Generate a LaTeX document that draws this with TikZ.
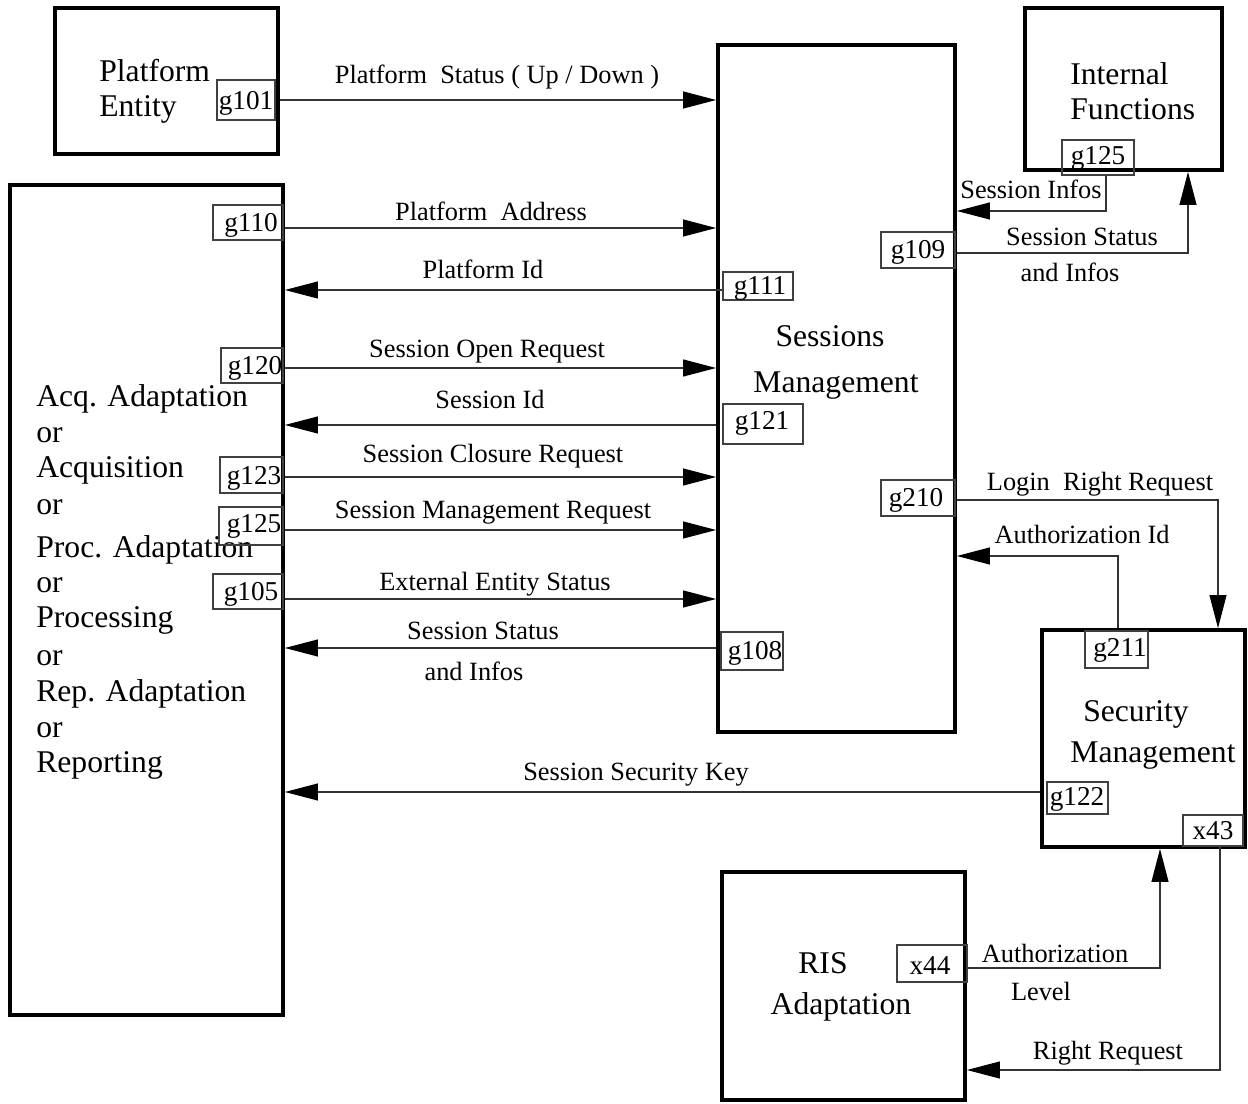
\documentclass[tikz,border=0pt]{standalone}
\usepackage{fontspec}
\setmainfont{Liberation Serif}
\usetikzlibrary{arrows.meta,fit}
\begin{document}
\begin{tikzpicture}[x=0.02cm,y=-0.02cm,
  block/.style={draw, line width=2.2pt, inner sep=0pt},
  port/.style={draw=black!75, line width=0.6pt, inner sep=0pt},
  ptext/.style={inner sep=0pt, font=\fontsize{15.5}{17}\selectfont},
  conn/.style={draw=black!80, line width=0.6pt},
  arr/.style={conn, -{Triangle[length=0.66cm,width=0.34cm,color=black]}},
  lbl/.style={font=\fontsize{15}{17}\selectfont, inner sep=0pt, anchor=base},
  big/.style={font=\fontsize{18}{20}\selectfont, inner sep=0pt}]
\useasboundingbox (0,0) rectangle (1248,1104);

% main blocks
\node[block, fit={(55,8) (278,154)}] (pe) {};
\node[block, fit={(10,185) (283,1015)}] (lb) {};
\node[block, fit={(718,45) (955,732)}] (sm) {};
\node[block, fit={(1025,8) (1222,170)}] (ifn) {};
\node[block, fit={(1042,630) (1245,847)}] (sec) {};
\node[block, fit={(722,872) (965,1100)}] (ris) {};

% block titles
\node[big, align=left, anchor=north west, font=\fontsize{18}{19.8}\selectfont] (pe-t) at (99,59) {Platform\\Entity};
\node[big, align=left, anchor=north west, font=\fontsize{18}{19.8}\selectfont] (ifn-t) at (1070,62) {Internal\\Functions};
\foreach \i/\y/\t in {1/407/Acq. Adaptation, 2/443/or, 3/478/Acquisition, 4/515/or,
    5/558/Proc. Adaptation, 6/593/or, 7/628/Processing, 8/665/or,
    9/702/Rep. Adaptation, 10/737/or, 11/772/Reporting}{
  \node[big, anchor=base west] (lb-t\i) at (36,\y) {\t};
}
\node[big, anchor=base] (sm-t1) at (830,347) {Sessions};
\node[big, anchor=base] (sm-t2) at (836,393) {Management};
\node[big, anchor=base] (sec-t1) at (1136,722) {Security};
\node[big, anchor=base] (sec-t2) at (1153,762) {Management};
\node[big, anchor=base] (ris-t1) at (823,973) {RIS};
\node[big, anchor=base] (ris-t2) at (841,1014) {Adaptation};

% ports: frame and name
\foreach \n/\t/\xa/\ya/\xb/\yb/\tx/\ty in {
    g101/g101/217/80/275/120/246/103,
    g110/g110/213/205/283/240/251/225,
    g111/g111/723/272/793/300/760/288,
    g120/g120/221/348/283/383/255/368,
    g121/g121/723/404/803/444/762/423,
    g123/g123/220/457/283/493/254/478,
    g125l/g125/219/507/283/545/254/526,
    g105/g105/213/574/283/609/251/594,
    g108/g108/721/632/783/670/755/653,
    g109/g109/881/232/955/268/918/252,
    g125i/g125/1062/140/1134/175/1098/158,
    g210/g210/881/480/955/516/916/500,
    g211/g211/1085/631/1148/668/1120/650,
    g122/g122/1047/782/1108/814/1077/799,
    x43/x43/1183/815/1243/846/1213/831,
    x44/x44/897/945/967/982/930/966}{
  \node[port, fit={(\xa,\ya) (\xb,\yb)}] (\n) {};
  \node[ptext] (\n-t) at (\tx,\ty) {\t};
}

% flows between the left block and sessions management
\draw[arr] (pe.east |- 0,100) -- (sm.west |- 0,100);
\draw[arr] (lb.east |- 0,228) -- (sm.west |- 0,228);
\draw[arr] (g111.west |- 0,290) -- (lb.east |- 0,290);
\draw[arr] (lb.east |- 0,368) -- (sm.west |- 0,368);
\draw[arr] (sm.west |- 0,425) -- (lb.east |- 0,425);
\draw[arr] (lb.east |- 0,477) -- (sm.west |- 0,477);
\draw[arr] (lb.east |- 0,530) -- (sm.west |- 0,530);
\draw[arr] (lb.east |- 0,599) -- (sm.west |- 0,599);
\draw[arr] (sm.west |- 0,648) -- (lb.east |- 0,648);
\draw[arr] (sec.west |- 0,792) -- (lb.east |- 0,792);

% flows on the right side
\draw[arr] (g125i.south -| 1106,0) |- (sm.east |- 0,211);
\draw[arr] (sm.east |- 0,253) -| (ifn.south -| 1188,0);
\draw[arr] (sm.east |- 0,500) -| (sec.north -| 1218,0);
\draw[arr] (sec.north -| 1118,0) |- (sm.east |- 0,556);
\draw[arr] (x44.east |- 0,968) -| (sec.south -| 1160,0);
\draw[arr] (x43.south -| 1220,0) |- (ris.east |- 0,1070);

% flow labels
\node[lbl] (l1) at (497,84) {Platform\ \ Status ( Up / Down )};
\node[lbl] (l2) at (491,221) {Platform\ \ Address};
\node[lbl] (l3) at (483,279) {Platform Id};
\node[lbl] (l4) at (487,358) {Session Open Request};
\node[lbl] (l5) at (490,409) {Session Id};
\node[lbl] (l6) at (493,463) {Session Closure Request};
\node[lbl] (l7) at (493,519) {Session Management Request};
\node[lbl] (l8) at (495,591) {External Entity Status};
\node[lbl] (l9a) at (483,640) {Session Status};
\node[lbl] (l9b) at (474,681) {and Infos};
\node[lbl] (l10) at (636,780) {Session Security Key};
\node[lbl] (l11) at (1031,199) {Session Infos};
\node[lbl] (l12a) at (1082,246) {Session Status};
\node[lbl] (l12b) at (1070,282) {and Infos};
\node[lbl] (l13) at (1100,491) {Login\ \ Right Request};
\node[lbl] (l14) at (1082,544) {Authorization Id};
\node[lbl] (l15a) at (1055,962) {Authorization};
\node[lbl] (l15b) at (1041,1000) {Level};
\node[lbl] (l16) at (1108,1059) {Right Request};
\end{tikzpicture}
\end{document}
